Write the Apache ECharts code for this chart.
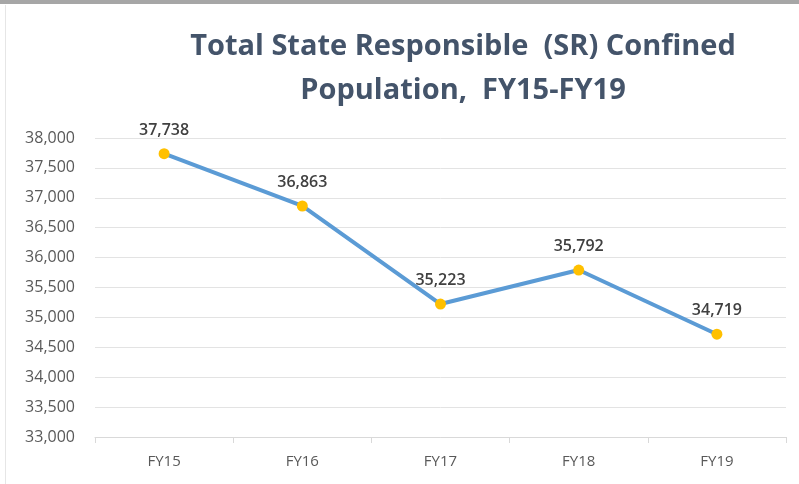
<!DOCTYPE html>
<html><head><meta charset="utf-8">
<script src="https://cdn.jsdelivr.net/npm/echarts@6/dist/echarts.min.js"></script>
<style>
html,body{margin:0;padding:0;background:#fff;}
#topbar{position:absolute;left:0;top:0;width:799px;height:4px;background:#a6a6a6;}
#leftline{position:absolute;left:5px;top:5px;width:1px;height:479px;background:#e6e6e6;}
#chart{position:absolute;left:0;top:0;width:799px;height:484px;}
</style></head>
<body>
<div id="chart"></div>
<div id="topbar"></div>
<div id="leftline"></div>
<script>
const categories = ['FY15','FY16','FY17','FY18','FY19'];
const population = [37738, 36863, 35223, 35792, 34719];
const titleLines = ['Total State Responsible  (SR) Confined', 'Population,  FY15-FY19'];

const FONT = '"Open Sans", sans-serif';
const chart = echarts.init(document.getElementById('chart'), null, {renderer:'canvas'});
chart.setOption({
  animation:false,
  backgroundColor:'#fff',
  title:{
    text: titleLines.join('\n'),
    left: 458, top: 20, textAlign:'center',
    textStyle:{fontFamily:FONT, fontWeight:'bold', fontSize:29, color:'#44546a', lineHeight:44}
  },
  grid:{left:95, right:13, top:138, bottom:47},
  xAxis:{
    type:'category', data:categories, boundaryGap:true,
    axisLine:{lineStyle:{color:'#d9d9d9', width:1}},
    axisTick:{show:true, length:6, lineStyle:{color:'#d9d9d9'}},
    axisLabel:{color:'#595959', fontSize:15, fontFamily:FONT, margin:17}
  },
  yAxis:{
    type:'value', min:33000, max:38000, interval:500,
    axisLine:{show:false}, axisTick:{show:false},
    splitLine:{lineStyle:{color:'#e3e3e3', width:1}},
    axisLabel:{color:'#595959', fontSize:16, fontFamily:FONT, margin:20,
      formatter: v => v.toLocaleString('en-US')}
  },
  series:[{
    type:'line', data:population,
    lineStyle:{color:'#5b9bd5', width:4},
    symbol:'circle', symbolSize:11,
    itemStyle:{color:'#ffc000'},
    label:{show:true, position:'top', distance:10, color:'#404040', fontSize:16, fontWeight:600,
      fontFamily:FONT,
      formatter: p => p.value.toLocaleString('en-US')}
  }]
});
</script>
</body></html>
